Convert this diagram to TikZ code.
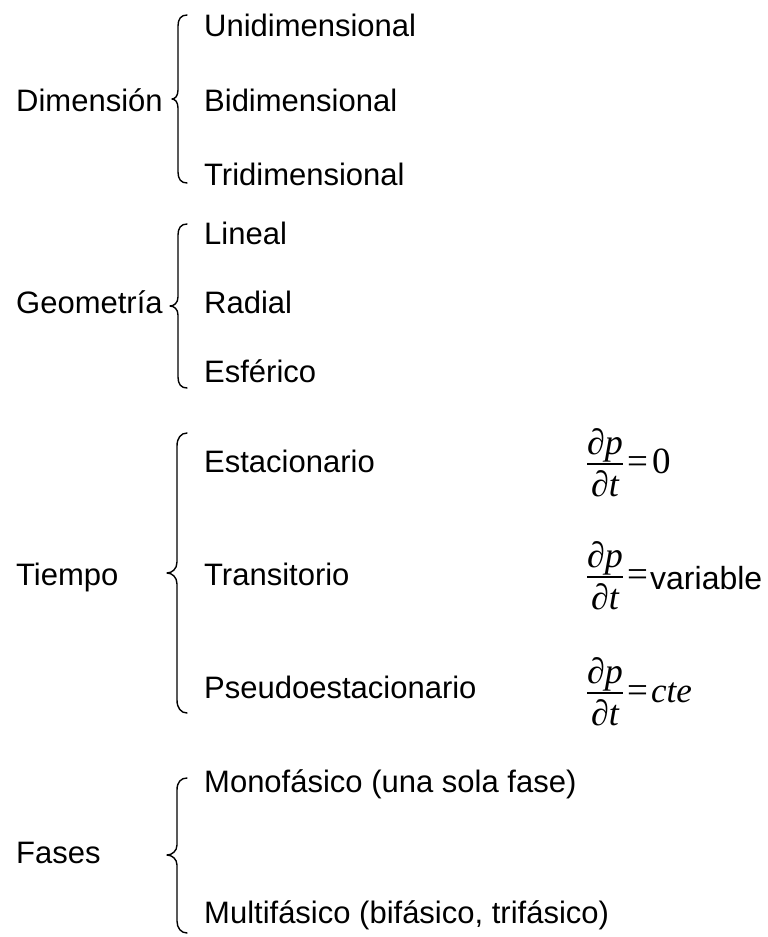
\documentclass[tikz,border=0pt]{standalone}
\usepackage{fontspec}
\setmainfont{Liberation Sans}
\newfontfamily\tms{Liberation Serif}
\begin{document}
\begin{tikzpicture}[x=1pt,y=-1pt,
  lbl/.style={anchor=base west,inner sep=0pt,font=\fontsize{31}{37}\selectfont},
  frac/.style={anchor=base,inner sep=0pt,font=\fontsize{36}{42}\selectfont\tms\itshape},
  rhs/.style={anchor=base west,inner sep=0pt,font=\fontsize{37}{44}\selectfont\tms},
  brc/.style={line width=1.4pt,line cap=round,line join=round},
  bar/.style={line width=1.2pt}]
\useasboundingbox (0,0) rectangle (768,937);
% ---------- Dimension
\node[lbl] (dim) at (16,111) {Dimensión};
\node[lbl] (uni) at (204,36) {Unidimensional};
\node[lbl] (bid) at (204,111) {Bidimensional};
\node[lbl] (tri) at (204,185) {Tridimensional};
\coordinate (b1t) at (187,15);
\coordinate (b1m) at (172,99);
\coordinate (b1b) at (187,183);
\draw[brc] (b1t) .. controls (181,15) and (178,19) .. (178,26) -- (178,90) .. controls (178,96) and (175,99) .. (b1m) .. controls (175,99) and (178,102) .. (178,108) -- (178,172) .. controls (178,179) and (181,183) .. (b1b);
% ---------- Geometria
\node[lbl] (geo) at (16,313) {Geometría};
\node[lbl] (lin) at (204,244) {Lineal};
\node[lbl] (rad) at (204,313) {Radial};
\node[lbl] (esf) at (204,382) {Esférico};
\coordinate (b2t) at (187,224);
\coordinate (b2m) at (170,306);
\coordinate (b2b) at (187,388);
\draw[brc] (b2t) .. controls (181,224) and (178,228) .. (178,235) -- (178,297) .. controls (178,303) and (174,306) .. (b2m) .. controls (174,306) and (178,309) .. (178,315) -- (178,377) .. controls (178,384) and (181,388) .. (b2b);
% ---------- Tiempo
\node[lbl] (tie) at (16,585) {Tiempo};
\node[lbl] (est) at (204,472) {Estacionario};
\node[lbl] (tra) at (204,585) {Transitorio};
\node[lbl] (pse) at (204,698) {Pseudoestacionario};
\coordinate (b3t) at (187,433);
\coordinate (b3m) at (167,573);
\coordinate (b3b) at (187,713);
\draw[brc] (b3t) .. controls (181,433) and (177,438) .. (177,446) -- (177,562) .. controls (177,569) and (172,573) .. (b3m) .. controls (172,573) and (177,577) .. (177,584) -- (177,700) .. controls (177,708) and (181,713) .. (b3b);
% ---------- Fases
\node[lbl] (fas) at (16,863) {Fases};
\node[lbl] (mon) at (204,792) {Monofásico (una sola fase)};
\node[lbl] (mul) at (204,923) {Multifásico (bifásico, trifásico)};
\coordinate (b4t) at (187,778);
\coordinate (b4m) at (167,855);
\coordinate (b4b) at (187,933);
\draw[brc] (b4t) .. controls (181,778) and (177,782) .. (177,790) -- (177,845) .. controls (177,851) and (172,855) .. (b4m) .. controls (172,855) and (177,859) .. (177,865) -- (177,921) .. controls (177,928) and (181,933) .. (b4b);
% ---------- equations
\node[frac] (n1) at (605,454) {∂p};
\node[frac] (d1) at (605,496) {∂t};
\coordinate (l1) at (587,464);
\coordinate (r1) at (623,464);
\draw[bar] (l1) -- (r1);
\node[rhs] (e1) at (627,473) {=};
\node[rhs] (z1) at (652,473) {0};

\node[frac] (n2) at (605,567) {∂p};
\node[frac] (d2) at (605,609) {∂t};
\coordinate (l2) at (587,577);
\coordinate (r2) at (623,577);
\draw[bar] (l2) -- (r2);
\node[rhs] (e2) at (627,586) {=};
\node[lbl,font=\fontsize{32}{38}\selectfont] (v2) at (650,589) {variable};

\node[frac] (n3) at (605,683) {∂p};
\node[frac] (d3) at (605,725) {∂t};
\coordinate (l3) at (587,693);
\coordinate (r3) at (623,693);
\draw[bar] (l3) -- (r3);
\node[rhs] (e3) at (627,702) {=};
\node[rhs,font=\fontsize{35}{42}\selectfont\tms\itshape] (c3) at (651,702) {cte};
\end{tikzpicture}
\end{document}
